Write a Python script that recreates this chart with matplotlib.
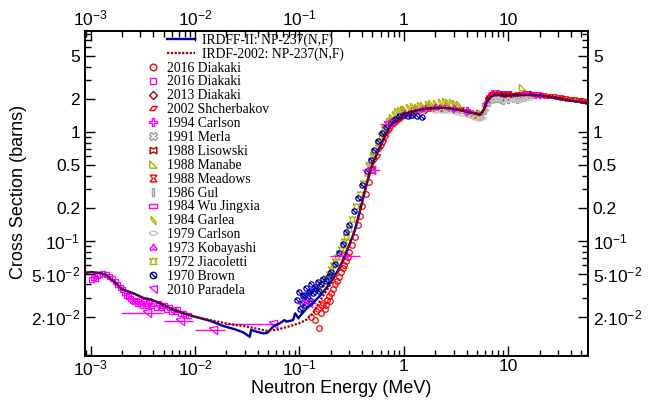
import matplotlib
matplotlib.use('Agg')
import matplotlib.pyplot as plt
from matplotlib.lines import Line2D
from matplotlib.path import Path
from matplotlib.ticker import FixedLocator, FixedFormatter, NullFormatter

plt.rcParams['font.family'] = ['Liberation Sans', 'DejaVu Sans']
plt.rcParams['mathtext.fontset'] = 'custom'
plt.rcParams['mathtext.rm'] = 'Liberation Sans'
plt.rcParams['mathtext.it'] = 'Liberation Sans:italic'
plt.rcParams['mathtext.bf'] = 'Liberation Sans:bold'

# ---------------- evaluated curves ----------------
irdff_E = [8.9e-4, 1.0e-3, 1.2e-3, 1.4e-3, 1.7e-3, 2.0e-3, 2.6e-3, 3.2e-3, 3.8e-3, 5.0e-3,
           6.3e-3, 8.0e-3, 1.0e-2, 1.4e-2, 1.9e-2, 2.4e-2, 2.9e-2, 3.35e-2, 3.45e-2, 3.9e-2,
           4.5e-2, 4.9e-2, 5.6e-2, 6.5e-2, 7.2e-2, 7.5e-2, 8.7e-2, 9.1e-2, 9.8e-2, 0.1,
           0.117, 0.135, 0.16, 0.185, 0.21, 0.24, 0.27, 0.30, 0.34, 0.375, 0.41, 0.45, 0.49,
           0.54, 0.59, 0.66, 0.73, 0.8, 0.9, 1.0, 1.15, 1.3, 1.5, 1.7, 2.0, 2.5, 3.0, 3.7,
           4.3, 5.0, 5.4, 5.8, 6.2, 6.7, 7.2, 8.0, 9.0, 11, 14, 20, 28, 36, 45, 60]
irdff_S = [0.051, 0.052, 0.051, 0.049, 0.042, 0.036, 0.033, 0.030, 0.029, 0.0259,
           0.0233, 0.0215, 0.0202, 0.0185, 0.0165, 0.0155, 0.0145, 0.0132, 0.0153, 0.0147,
           0.0142, 0.0143, 0.0164, 0.0176, 0.0188, 0.0182, 0.0188, 0.0217, 0.0195, 0.0202,
           0.024, 0.027, 0.032, 0.038, 0.045, 0.056, 0.072, 0.092, 0.126, 0.18, 0.255, 0.36, 0.48,
           0.60, 0.73, 0.92, 1.12, 1.25, 1.36, 1.46, 1.53, 1.58, 1.62, 1.65, 1.67, 1.67, 1.63, 1.57,
           1.52, 1.47, 1.45, 1.60, 1.88, 2.08, 2.18, 2.20, 2.19, 2.18, 2.20, 2.18, 2.08, 1.98, 1.92, 1.83]

irdf_E = [8.9e-4, 1.0e-3, 1.2e-3, 1.4e-3, 1.7e-3, 2.0e-3, 2.6e-3, 3.2e-3, 3.8e-3, 5.0e-3,
          6.3e-3, 8.0e-3, 1.0e-2, 1.4e-2, 1.9e-2, 2.4e-2, 3.0e-2, 3.8e-2, 4.8e-2, 6.0e-2,
          7.5e-2, 0.1, 0.117, 0.135, 0.16, 0.185, 0.21, 0.24, 0.27, 0.30, 0.34, 0.375, 0.41,
          0.45, 0.49, 0.54, 0.59, 0.66, 0.73, 0.8, 0.9, 1.0, 1.15, 1.3, 1.5, 1.7, 2.0, 2.5,
          3.0, 3.7, 4.3, 5.0, 5.4, 5.8, 6.2, 6.7, 7.2, 8.0, 9.0, 11, 14, 20, 28, 36, 45, 60]
irdf_S = [0.051, 0.052, 0.051, 0.049, 0.042, 0.036, 0.033, 0.030, 0.029, 0.026,
          0.0233, 0.0215, 0.0202, 0.0188, 0.0177, 0.0170, 0.0165, 0.0158, 0.0150, 0.0153,
          0.0162, 0.0176, 0.019, 0.0218, 0.029, 0.036, 0.044, 0.056, 0.072, 0.092, 0.126, 0.18, 0.255,
          0.36, 0.48, 0.60, 0.73, 0.92, 1.12, 1.25, 1.36, 1.46, 1.53, 1.58, 1.62, 1.65, 1.67, 1.67,
          1.63, 1.57, 1.52, 1.47, 1.45, 1.60, 1.88, 2.08, 2.18, 2.20, 2.19, 2.18, 2.20, 2.18, 2.10,
          2.00, 1.93, 1.85]

# ---------------- experimental data ----------------
diakaki16a_E = [0.13, 0.14, 0.145, 0.15, 0.155, 0.16, 0.165, 0.17, 0.175, 0.18, 0.185, 0.19,
                0.195, 0.20, 0.21, 0.22, 0.23, 0.24, 0.25, 0.26, 0.27, 0.28, 0.29, 0.30, 0.32,
                0.34, 0.36, 0.38, 0.40, 0.43, 0.46, 0.50]
diakaki16a_S = [0.020, 0.019, 0.023, 0.024, 0.016, 0.022, 0.026, 0.027, 0.024, 0.026, 0.029,
                0.031, 0.028, 0.033, 0.036, 0.040, 0.043, 0.047, 0.052, 0.057, 0.060, 0.066,
                0.071, 0.080, 0.092, 0.11, 0.14, 0.17, 0.21, 0.27, 0.35, 0.45]

diakaki16b_E = [1.0e-3, 1.05e-3, 1.1e-3, 1.15e-3, 1.2e-3, 1.3e-3, 1.4e-3, 1.5e-3, 1.6e-3,
                1.7e-3, 1.8e-3, 1.9e-3, 2.0e-3, 2.1e-3, 2.2e-3, 2.3e-3, 2.4e-3, 2.5e-3, 2.6e-3,
                2.7e-3, 2.8e-3, 2.9e-3, 3.0e-3, 3.1e-3, 3.2e-3, 3.3e-3, 3.4e-3, 3.5e-3, 3.6e-3,
                3.8e-3, 4.0e-3, 4.2e-3, 4.4e-3, 4.6e-3, 4.8e-3, 5.0e-3, 5.3e-3, 5.6e-3, 5.9e-3,
                6.2e-3, 6.5e-3, 6.8e-3, 7.2e-3, 7.6e-3, 8.0e-3, 8.5e-3]
diakaki16b_S = [0.045, 0.047, 0.046, 0.049, 0.050, 0.051, 0.050, 0.048, 0.046, 0.043, 0.040,
                0.038, 0.036, 0.034, 0.032, 0.031, 0.030, 0.029, 0.028, 0.029, 0.027, 0.028,
                0.027, 0.026, 0.028, 0.026, 0.027, 0.026, 0.028, 0.026, 0.027, 0.025, 0.027,
                0.025, 0.026, 0.026, 0.024, 0.025, 0.023, 0.024, 0.023, 0.024, 0.022, 0.022,
                0.021, 0.021]

diakaki13_E = [1.2, 1.6, 2.2, 3.0, 4.0, 6.5, 7.5, 8.5, 9.5, 10.5, 12]
diakaki13_S = [1.55, 1.62, 1.66, 1.62, 1.53, 2.05, 2.15, 2.20, 2.12, 2.20, 2.17]

shcherbakov_E = [0.5, 0.52, 0.55, 0.58, 0.6, 0.63, 0.66, 0.69, 0.72, 0.76, 0.8, 0.84, 0.88,
                 0.92, 0.96, 1.0, 1.05, 1.1, 1.15, 1.2, 1.3, 1.4, 1.5, 1.6, 1.7, 1.8, 1.9, 2.0,
                 2.15, 2.3, 2.45, 2.6, 2.8, 3.0, 3.2, 3.4, 3.6, 3.8, 4.0, 4.3, 4.6, 4.9, 5.2,
                 5.5, 5.8, 6.1, 6.4, 6.7, 7.0, 7.4, 7.8, 8.2, 8.7, 9.2, 9.7, 10.3, 11, 11.7,
                 12.5, 13.3, 14.2, 15.2, 16.3, 17.5, 18.8, 20, 21.5, 23, 25, 27, 29, 31, 33, 35,
                 37.5, 40, 43, 46, 49, 52, 55, 58]
shcherbakov_S = [0.47, 0.55, 0.60, 0.70, 0.74, 0.82, 0.90, 1.00, 1.04, 1.15, 1.20, 1.24, 1.30,
                 1.33, 1.37, 1.42, 1.46, 1.47, 1.52, 1.50, 1.56, 1.58, 1.60, 1.63, 1.62, 1.66,
                 1.64, 1.68, 1.66, 1.69, 1.65, 1.67, 1.63, 1.64, 1.60, 1.60, 1.56, 1.57, 1.53,
                 1.52, 1.48, 1.46, 1.40, 1.44, 1.60, 1.82, 2.00, 2.10, 2.15, 2.22, 2.18, 2.24,
                 2.20, 2.16, 2.22, 2.18, 2.20, 2.15, 2.22, 2.20, 2.25, 2.20, 2.24, 2.19, 2.23,
                 2.20, 2.20, 2.16, 2.14, 2.13, 2.10, 2.09, 2.06, 2.05, 2.03, 2.02, 2.00, 1.98,
                 1.96, 1.94, 1.92, 1.90]

carlson94_E = [0.8, 1.0, 1.3, 1.7, 2.0, 2.5, 3.0, 4.0, 5.0, 6.0, 6.5, 7.0, 7.5, 8, 9, 10, 12,
               14, 16, 18, 20]
carlson94_S = [1.28, 1.50, 1.62, 1.70, 1.72, 1.74, 1.68, 1.60, 1.50, 1.80, 2.15, 2.30, 2.30,
               2.28, 2.25, 2.22, 2.20, 2.22, 2.25, 2.20, 2.18]

merla_E = [2.5, 4.5, 14.7]
merla_S = [1.62, 1.48, 2.17]

lisowski_E = [6.5, 7, 7.5, 8, 8.5, 9, 9.5, 10, 11, 12, 13, 14, 15, 16]
lisowski_S = [2.00, 2.12, 2.25, 2.15, 2.05, 2.22, 2.10, 2.25, 2.15, 2.20, 2.12, 2.20, 2.23, 2.18]

manabe_E = [1.0, 2.0, 5.0, 13.5, 14.5]
manabe_S = [1.55, 1.70, 1.40, 2.60, 2.25]

meadows_E = [3.5, 5.0, 7.0, 10.0, 14.7]
meadows_S = [1.60, 1.45, 2.20, 2.20, 2.25]

gul_E = [5.2, 5.6, 6.0, 6.5, 7, 7.5, 8, 8.5, 9, 10, 11, 12, 13, 14]
gul_S = [1.38, 1.40, 1.55, 1.85, 1.98, 2.02, 2.00, 1.98, 1.95, 1.97, 2.00, 1.98, 2.02, 2.05]

wu_E = [14.0, 14.5, 15.0]
wu_S = [2.25, 2.28, 2.20]

garlea_E = [0.45, 0.5, 0.55, 0.6, 0.65, 0.7, 0.75, 0.8, 0.85, 0.9, 0.95, 1.0, 1.1, 1.2, 1.3,
            1.4, 1.5, 1.65, 1.8, 2.0, 2.2, 2.4, 2.6, 2.8, 3.0, 3.3, 5.0, 5.4, 5.8]
garlea_S = [0.50, 0.62, 0.78, 0.95, 1.12, 1.28, 1.38, 1.48, 1.55, 1.60, 1.62, 1.65, 1.70, 1.73,
            1.72, 1.76, 1.78, 1.80, 1.84, 1.86, 1.90, 1.92, 1.90, 1.88, 1.85, 1.80, 1.42, 1.50,
            1.70]

carlson79_E = [1.5, 2.0, 2.3, 2.6, 3.0, 3.3, 3.6, 4.0, 4.4, 4.8, 5.2, 5.6, 6.0, 6.5, 7.0, 7.5,
               8, 9, 10, 11, 12, 13, 14, 15, 16]
carlson79_S = [1.55, 1.55, 1.57, 1.56, 1.53, 1.50, 1.47, 1.43, 1.40, 1.36, 1.33, 1.36, 1.60,
               1.90, 2.00, 2.02, 2.00, 1.98, 1.97, 1.96, 2.00, 1.98, 2.02, 2.05, 2.08]

kobayashi_E = [1.0, 1.5, 2.0, 3.0, 4.0]
kobayashi_S = [1.50, 1.62, 1.70, 1.66, 1.56]

jiacoletti_E = [0.15, 0.16, 0.17, 0.18, 0.19, 0.2, 0.21, 0.22, 0.23, 0.24, 0.25, 0.26, 0.27,
                0.28, 0.3, 0.32, 0.35, 0.38, 0.41, 0.44, 0.48, 0.52, 0.56, 0.6, 0.65, 0.7, 0.75]
jiacoletti_S = [0.036, 0.040, 0.044, 0.046, 0.050, 0.055, 0.060, 0.065, 0.071, 0.078, 0.085,
                0.092, 0.10, 0.11, 0.13, 0.16, 0.21, 0.27, 0.34, 0.42, 0.54, 0.66, 0.80, 0.93,
                1.08, 1.20, 1.30]

brown_E = [0.095, 0.10, 0.102, 0.105, 0.108, 0.11, 0.113, 0.115, 0.118, 0.12, 0.123, 0.125,
           0.128, 0.13, 0.135, 0.14, 0.145, 0.15, 0.155, 0.16, 0.17, 0.18, 0.19, 0.20, 0.22,
           0.24, 0.26, 0.28, 0.30, 0.33, 0.36, 0.40, 0.44, 0.48, 0.52, 0.57, 0.62, 0.68, 0.75,
           0.82, 0.9, 1.0, 1.1, 1.2, 1.35, 1.5]
brown_S = [0.029, 0.034, 0.024, 0.027, 0.031, 0.032, 0.026, 0.037, 0.029, 0.030, 0.034, 0.035,
           0.028, 0.040, 0.033, 0.038, 0.036, 0.042, 0.035, 0.040, 0.045, 0.043, 0.048, 0.052,
           0.062, 0.078, 0.095, 0.12, 0.14, 0.19, 0.25, 0.33, 0.44, 0.56, 0.68, 0.83, 0.98,
           1.12, 1.25, 1.33, 1.40, 1.45, 1.42, 1.45, 1.40, 1.38]

paradela_E = [3.45e-3, 7.2e-3, 1.5e-2, 5.6e-2, 0.12, 0.26, 0.48, 0.70]
paradela_S = [0.0217, 0.0186, 0.0153, 0.0174, 0.027, 0.073, 0.45, 1.2]
paradela_lo = [1.95e-3, 5.0e-3, 1.0e-2, 1.93e-2, 0.094, 0.195, 0.394, 0.589]
paradela_hi = [4.9e-3, 9.6e-3, 1.93e-2, 6.2e-2, 0.145, 0.38, 0.589, 0.82]

x_ticks = [1e-3, 1e-2, 1e-1, 1, 10]
x_labels = ['$10^{-3}$', '$10^{-2}$', '$10^{-1}$', '1', '10']
y_ticks = [0.02, 0.05, 0.1, 0.2, 0.5, 1, 2, 5]
y_labels = ['$2{\\cdot}10^{-2}$', '$5{\\cdot}10^{-2}$', '$10^{-1}$', '0.2', '0.5', '1', '2', '5']

# ---------------- colours / markers ----------------
RED = '#ff0000'
MAG = '#ff00ff'
DKRED = '#b00000'
OLIVE = '#b0b000'
GRAY = '#a0a0a0'
LTGRAY = '#c4c4c4'
BLUE = '#0000b0'
LINEBLUE = '#0000a8'
LINERED = '#a00000'


def closed(v):
    return v + [v[0]]


M_PARA = closed([(-1, -0.55), (0.25, -0.55), (1, 0.55), (-0.25, 0.55)])
M_LIS = closed([(-1, 1), (0, 0.45), (1, 1), (1, -1), (0, -0.45), (-1, -1)])
M_MAN = closed([(-1, 1), (-1, -1), (1, -1)])
M_MEA = closed([(-1, 1), (1, 1), (0.25, 0), (1, -1), (-1, -1), (-0.25, 0)])
M_GUL = closed([(-0.4, 1), (0.4, 1), (0.4, -1), (-0.4, -1)])
M_WU = closed([(-1, 0.4), (1, 0.4), (1, -0.4), (-1, -0.4)])
M_GAR = closed([(-0.6, 1), (-0.6, 0.3), (0.6, -1), (0.6, -0.3)])
M_BOAT = closed([(-1, 0.1), (-0.4, 0.5), (0.4, 0.5), (1, 0.1), (0.4, -0.4), (-0.4, -0.4)])
M_CLUB = closed([(0, 1), (0.35, 0.2), (0.9, -0.2), (0.8, -0.8), (0.25, -0.7), (0, -0.3),
                 (-0.25, -0.7), (-0.8, -0.8), (-0.9, -0.2), (-0.35, 0.2)])
M_CROWN = closed([(-1, 0.9), (-0.45, 0.55), (0, 0.95), (0.45, 0.55), (1, 0.9), (0.55, 0.0),
                  (0.9, -0.8), (-0.9, -0.8), (-0.55, 0.0)])
M_PAR = closed([(-1, 0.6), (1, 1), (1, -1)])
M_BROWN = Path.make_compound_path(Path.unit_circle(),
                                  Path([(-0.75, 0.75), (0.75, -0.75)]))

datasets = [
    ('2016 Diakaki', diakaki16a_E, diakaki16a_S, 'o', RED, 4.0),
    ('2016 Diakaki', diakaki16b_E, diakaki16b_S, 's', MAG, 3.6),
    ('2013 Diakaki', diakaki13_E, diakaki13_S, 'D', DKRED, 3.6),
    ('2002 Shcherbakov', shcherbakov_E, shcherbakov_S, M_PARA, RED, 4.5),
    ('1994 Carlson', carlson94_E, carlson94_S, 'P', MAG, 4.5),
    ('1991 Merla', merla_E, merla_S, 'X', GRAY, 4.5),
    ('1988 Lisowski', lisowski_E, lisowski_S, M_LIS, DKRED, 4.0),
    ('1988 Manabe', manabe_E, manabe_S, M_MAN, OLIVE, 4.5),
    ('1988 Meadows', meadows_E, meadows_S, M_MEA, RED, 4.0),
    ('1986 Gul', gul_E, gul_S, M_GUL, GRAY, 4.5),
    ('1984 Wu Jingxia', wu_E, wu_S, M_WU, MAG, 5.0),
    ('1984 Garlea', garlea_E, garlea_S, M_GAR, OLIVE, 5.0),
    ('1979 Carlson', carlson79_E, carlson79_S, M_BOAT, LTGRAY, 5.5),
    ('1973 Kobayashi', kobayashi_E, kobayashi_S, M_CLUB, MAG, 4.5),
    ('1972 Jiacoletti', jiacoletti_E, jiacoletti_S, M_CROWN, OLIVE, 4.5),
    ('1970 Brown', brown_E, brown_S, M_BROWN, BLUE, 3.8),
]

fig = plt.figure(figsize=(6.49, 4.0), dpi=100)
ax = fig.add_axes([85 / 649, 44 / 400, 503 / 649, 325 / 400])
ax.set_xscale('log')
ax.set_yscale('log')
ax.set_xlim(8.85e-4, 58)
ax.set_ylim(0.0088, 8.5)

handles = []
for label, E, S, mk, col, ms in datasets:
    ax.plot(E, S, linestyle='none', marker=mk, markersize=ms, markeredgecolor=col,
            markerfacecolor='none', markeredgewidth=0.9, zorder=2)
    handles.append(Line2D([], [], linestyle='none', marker=mk, markersize=ms + 0.8,
                          markeredgecolor=col, markerfacecolor='none', markeredgewidth=1.0,
                          label=label))

xerr = [[e - lo for e, lo in zip(paradela_E, paradela_lo)],
        [hi - e for e, hi in zip(paradela_E, paradela_hi)]]
ax.errorbar(paradela_E, paradela_S, xerr=xerr, fmt='none', ecolor=MAG, elinewidth=1.0,
            capsize=0, zorder=2)
ax.plot(paradela_E, paradela_S, linestyle='none', marker=M_PAR, markersize=6,
        markeredgecolor=MAG, markerfacecolor='none', markeredgewidth=0.9, zorder=2)
handles.append(Line2D([], [], linestyle='none', marker=M_PAR, markersize=5.5,
                      markeredgecolor=MAG, markerfacecolor='none', markeredgewidth=1.0,
                      label='2010 Paradela'))

l1, = ax.plot(irdff_E, irdff_S, color=LINEBLUE, lw=1.7, zorder=3,
              label='IRDFF-II: NP-237(N,F)')
l2, = ax.plot(irdf_E, irdf_S, color=LINERED, lw=1.6, linestyle=(0, (1, 0.7)), zorder=4,
              label='IRDF-2002: NP-237(N,F)')

ax.xaxis.set_major_locator(FixedLocator(x_ticks))
ax.xaxis.set_major_formatter(FixedFormatter(x_labels))
ax.xaxis.set_minor_formatter(NullFormatter())
ax.yaxis.set_major_locator(FixedLocator(y_ticks))
ax.yaxis.set_major_formatter(FixedFormatter(y_labels))
ax.yaxis.set_minor_formatter(NullFormatter())
ax.tick_params(which='both', direction='in', top=True, right=True,
               labeltop=True, labelright=True, labelsize=12.5, width=1.0, color='black')
ax.tick_params(which='major', length=7)
ax.tick_params(which='minor', length=4)
ax.tick_params(axis='x', which='major', pad=2)
for sp in ax.spines.values():
    sp.set_linewidth(1.4)

fig.text(0.525, 0.028, 'Neutron Energy (MeV)', ha='center', va='center', fontsize=13)
fig.text(0.028, 0.52, 'Cross Section (barns)', ha='center', va='center', fontsize=13,
         rotation=90)

legfont = {'family': 'Liberation Serif', 'size': 9.8}
leg1 = ax.legend(handles=[l1, l2], loc='upper left', bbox_to_anchor=(0.163, 0.991),
                 frameon=False, prop=legfont, handlelength=2.06, handletextpad=0.5,
                 labelspacing=0.0, borderaxespad=0.0, borderpad=0.0)
ax.add_artist(leg1)
leg2 = ax.legend(handles=handles, loc='upper left', bbox_to_anchor=(0.1217, 0.906),
                 frameon=False, prop=legfont, handlelength=1.0, handletextpad=0.53,
                 labelspacing=0.065, borderaxespad=0.0, borderpad=0.0)

fig.savefig('out.png', dpi=100)
